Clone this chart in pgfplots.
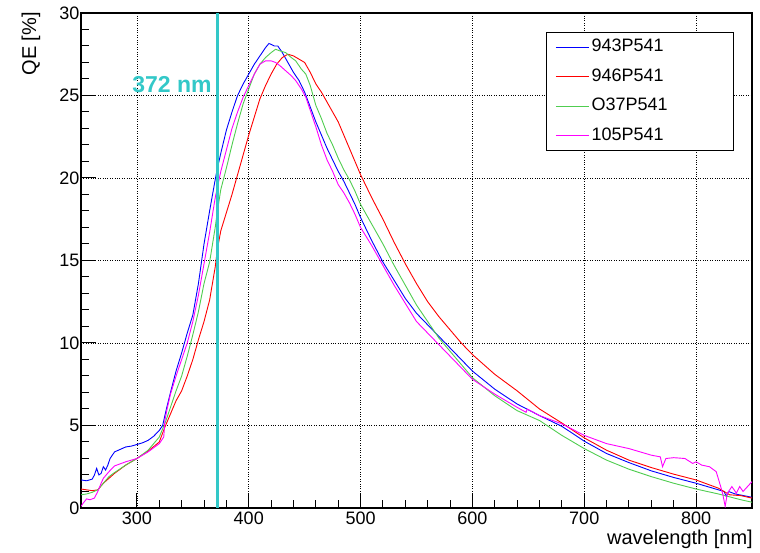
\documentclass[border=0pt]{standalone}
\usepackage{fontspec}
\setmainfont{Liberation Sans}
\usepackage{pgfplots}
\pgfplotsset{compat=1.18}
\definecolor{qblue}{RGB}{0,0,255}
\definecolor{qred}{RGB}{255,0,0}
\definecolor{qgreen}{RGB}{80,205,80}
\definecolor{qmag}{RGB}{255,0,255}
\definecolor{qcyan}{RGB}{51,200,200}
\begin{document}
\begin{tikzpicture}[x=1pt,y=1pt]
\useasboundingbox (0,0) rectangle (760,553);
\begin{axis}[
  at={(81pt,45pt)}, anchor=south west,
  scale only axis, width=671pt, height=495pt,
  xmin=250, xmax=850, ymin=0, ymax=30,
  xtick={300,400,...,800}, ytick={0,5,...,30},
  minor x tick num=4, minor y tick num=4,
  tick pos=left, tick align=inside,
  major tick length=15pt, minor tick length=8pt,
  every tick/.style={black, line width=1pt},
  grid=major, major grid style={black, dotted, line width=0.8pt},
  axis line style={line width=1.4pt},
  ticklabel style={font=\fontsize{18}{18}\selectfont},
  yticklabel style={xshift=2pt},
  /pgf/number format/assume math mode=true,
  legend style={at={(0.693,0.961)}, anchor=north west, draw=black, line width=0.8pt,
    font=\fontsize{18}{18}\selectfont, inner xsep=9pt, inner ysep=4pt, row sep=8.5pt,
    nodes={inner sep=2pt, text height=13pt, text depth=4pt, text width=131pt, align=left}},
  legend cell align=left,
  legend image code/.code={\draw[#1, line width=1.1pt] (0pt,0pt) -- (33pt,0pt);},
]
% 943P541
\addplot[draw=qblue, line width=0.9pt] coordinates {
(250,1.7) (255,1.65) (260,1.75) (262,2.0) (264,2.4) (266,2.0) (268,2.1) (270,2.5) (272,2.3) (274,2.6) (276,3.0) (280,3.4) (285,3.55) (290,3.7) (295,3.75) (300,3.85) (305,3.95) (310,4.1) (315,4.35) (320,4.7) (323,5.0) (326,5.9) (330,7.0) (335,8.3) (340,9.4) (345,10.6) (350,11.7) (355,13.6) (360,16.0) (365,18.0) (370,19.9) (372,20.6) (375,21.5) (380,22.9) (385,24.0) (390,25.0) (395,25.7) (400,26.3) (405,26.9) (410,27.4) (415,27.9) (418,28.15) (420,28.1) (423,28.0) (426,28.0) (430,27.6) (435,27.0) (440,26.4) (445,25.9) (450,25.2) (455,24.3) (460,23.4) (465,22.6) (470,21.8) (475,21.1) (480,20.4) (485,19.8) (490,19.1) (495,18.4) (500,17.6) (510,16.2) (520,14.9) (530,13.8) (540,12.7) (550,11.8) (560,11.1) (570,10.4) (580,9.7) (590,9.0) (600,8.3) (620,7.2) (640,6.3) (660,5.6) (680,4.95) (700,4.05) (720,3.3) (740,2.75) (760,2.25) (780,1.85) (800,1.5) (820,1.1) (825,1.0) (827,0.7) (829,1.0) (835,0.85) (850,0.65)
};
\addlegendentry{943P541}
% 946P541
\addplot[draw=qred, line width=0.9pt] coordinates {
(250,1.15) (255,1.1) (260,1.05) (265,1.1) (270,1.5) (275,1.8) (280,2.1) (290,2.6) (300,3.0) (310,3.45) (320,4.0) (325,4.9) (330,5.7) (335,6.5) (340,7.1) (345,8.0) (350,9.0) (355,10.2) (360,11.3) (365,12.6) (370,14.6) (372,15.7) (375,16.8) (380,17.9) (385,19.0) (390,20.2) (395,21.4) (400,22.6) (405,23.7) (410,24.8) (415,25.6) (420,26.3) (425,26.9) (430,27.3) (435,27.5) (440,27.4) (445,27.2) (450,27.0) (455,26.4) (460,25.7) (465,25.2) (470,24.6) (475,24.0) (480,23.4) (485,22.6) (490,21.8) (495,21.0) (500,20.2) (510,18.8) (520,17.5) (530,16.1) (540,14.8) (550,13.6) (560,12.5) (570,11.6) (580,10.8) (590,10.0) (600,9.3) (620,8.1) (640,7.1) (660,6.0) (680,5.15) (700,4.25) (720,3.5) (740,2.9) (760,2.45) (780,2.05) (800,1.7) (820,1.2) (825,1.0) (830,0.8) (840,0.75) (850,0.6)
};
\addlegendentry{946P541}
% O37P541
\addplot[draw=qgreen, line width=0.9pt] coordinates {
(250,0.8) (255,0.85) (260,0.95) (265,1.1) (270,1.5) (275,1.9) (280,2.15) (290,2.6) (300,3.0) (310,3.5) (320,4.3) (326,5.3) (330,6.1) (335,7.1) (340,8.0) (345,9.2) (350,10.5) (355,11.9) (360,13.6) (365,14.9) (370,17.0) (372,18.0) (375,19.3) (380,20.6) (385,22.0) (390,23.3) (395,24.5) (400,25.4) (405,26.3) (410,26.9) (415,27.3) (420,27.6) (424,27.8) (428,27.7) (433,27.6) (438,27.3) (442,27.1) (447,26.6) (451,26.3) (455,25.6) (460,24.4) (465,23.6) (470,22.7) (475,22.0) (480,21.2) (485,20.5) (490,19.9) (495,19.2) (500,18.4) (510,17.2) (520,16.0) (530,14.7) (540,13.5) (550,12.3) (560,11.3) (570,10.3) (580,9.5) (590,8.7) (600,7.9) (620,6.8) (640,5.9) (660,5.3) (680,4.4) (700,3.6) (720,2.9) (740,2.35) (760,1.9) (780,1.5) (800,1.15) (820,0.85) (840,0.5) (850,0.35)
};
\addlegendentry{O37P541}
% 105P541
\addplot[draw=qmag, line width=0.9pt] coordinates {
(250,0.1) (252,0.3) (255,0.55) (258,0.5) (262,0.6) (265,1.0) (268,1.5) (270,1.8) (275,2.2) (280,2.55) (290,2.8) (300,3.0) (310,3.4) (320,3.9) (324,4.3) (325,5.3) (327,6.0) (330,6.9) (335,8.0) (340,9.0) (345,10.0) (350,11.3) (355,12.9) (360,14.8) (365,16.7) (370,18.8) (375,20.4) (380,21.7) (385,23.0) (390,24.0) (395,24.9) (400,25.6) (405,26.3) (410,26.9) (415,27.1) (420,27.1) (424,27.0) (428,26.8) (433,26.5) (438,26.2) (442,25.9) (447,25.4) (451,24.9) (455,24.1) (460,23.1) (465,22.0) (470,21.1) (475,20.4) (480,19.6) (485,19.1) (490,18.5) (495,17.8) (500,17.0) (510,15.9) (520,14.7) (530,13.5) (540,12.4) (550,11.3) (560,10.6) (570,9.9) (580,9.2) (590,8.5) (600,7.8) (620,6.9) (640,6.1) (648,5.8) (649,6.0) (660,5.6) (680,5.1) (700,4.4) (720,3.9) (740,3.6) (760,3.2) (768,3.1) (770,2.5) (773,3.0) (780,3.05) (790,3.0) (797,2.7) (800,2.8) (805,2.6) (812,2.5) (818,2.2) (822,1.3) (824,0.8) (826,0.1) (828,0.9) (832,1.3) (836,0.9) (839,1.3) (842,1.0) (846,1.3) (850,1.6)
};
\addlegendentry{105P541}
\addplot[draw=qcyan, line width=3.5pt, forget plot] coordinates {(372,0) (372,30)};
\node[anchor=base east, inner sep=0pt, text=qcyan, font=\bfseries\fontsize{23}{23}\selectfont] at (axis cs:367,25.2) {372 nm};
\end{axis}
\node[rotate=90, anchor=base east, inner sep=0pt, font=\fontsize{20}{20}\selectfont] at (36,541) {QE [\%]};
\node[anchor=base east, inner sep=0pt, font=\fontsize{20}{20}\selectfont] at (753,8) {wavelength [nm]};
\end{tikzpicture}
\end{document}
